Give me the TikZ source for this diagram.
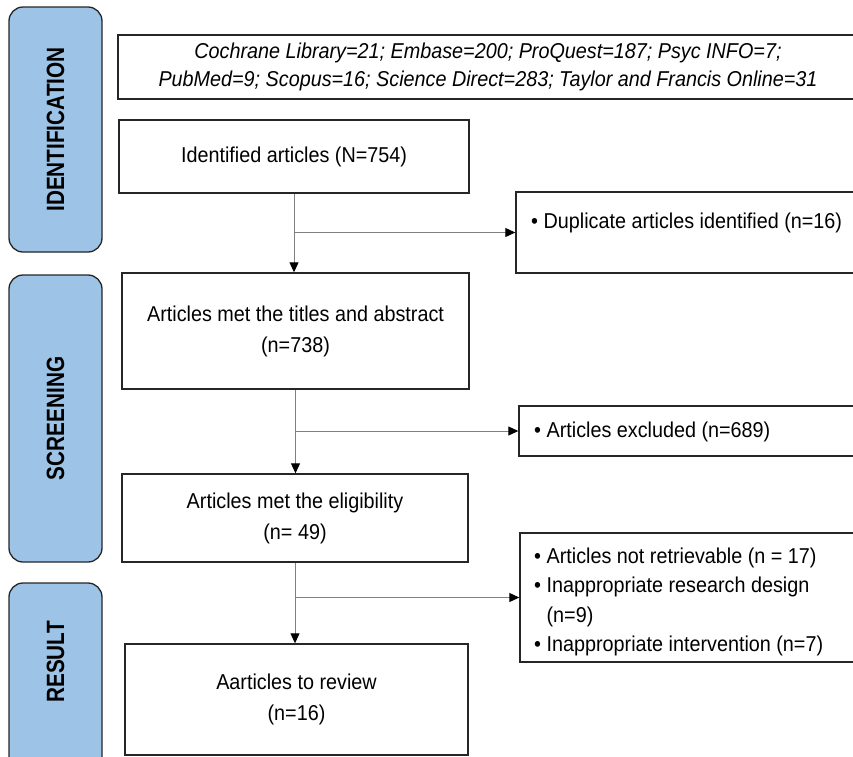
\documentclass[tikz,border=0pt]{standalone}
\usepackage{fontspec}
\setmainfont[FakeStretch=0.92]{Liberation Sans}
\newfontfamily\barfont[FakeStretch=0.83]{Liberation Sans}
\usetikzlibrary{arrows.meta}
\definecolor{barblue}{HTML}{9DC3E6}
\begin{document}
\begin{tikzpicture}[x=1pt,y=-1pt,
  bar/.style={draw=black!85, line width=1.3pt, fill=barblue, rounded corners=14pt, rotate=90,
    font=\barfont\bfseries\fontsize{25}{30}\selectfont, inner sep=0pt},
  box/.style={draw=black!85, line width=1.4pt, inner sep=0pt, align=center,
    font=\fontsize{21.5}{31}\selectfont},
  boxtext/.style={inner sep=0pt, align=left, font=\fontsize{21.5}{29.5}\selectfont},
  conn/.style={draw=black!50, line width=1pt},
  arr/.style={conn, -{Triangle[length=10pt,width=9pt,color=black]}}]
\clip (0,0) rectangle (853,756);
\fill[white] (0,0) rectangle (853,756);

% phase bars
\node[bar, minimum width=245, minimum height=93] (bid) at (55.5,129.5) {IDENTIFICATION};
\node[bar, minimum width=287, minimum height=93] (bscr) at (55.5,418.5) {SCREENING};
\node[bar, minimum width=200, minimum height=93] (bres) at (55.5,683) {};
\node[font=\barfont\bfseries\fontsize{25}{30}\selectfont, rotate=90, inner sep=0pt] (bresl) at (55.5,662) {RESULT};

% main boxes
\node[box, minimum width=740, minimum height=64, font=\itshape\fontsize{21.5}{28.5}\selectfont] (src) at (488,67)
  {Cochrane Library=21; Embase=200; ProQuest=187; Psyc INFO=7;\\
   PubMed=9; Scopus=16; Science Direct=283; Taylor and Francis Online=31};
\node[box, minimum width=350, minimum height=73] (ida) at (294,156.5) {Identified articles (N=754)};
\node[box, minimum width=347, minimum height=116] (scr) at (295.5,331) {Articles met the titles and abstract\\(n=738)};
\node[box, minimum width=346, minimum height=88] (elig) at (295,518) {Articles met the eligibility\\(n= 49)};
\node[box, minimum width=343, minimum height=111] (rev) at (296.5,699.5) {Aarticles to review\\(n=16)};

% side boxes
\node[box, minimum width=364, minimum height=81] (dup) at (698,232.5) {};
\node[boxtext, anchor=west] (dupt) at (531,223) {\textbullet\ Duplicate articles identified (n=16)};
\node[box, minimum width=361, minimum height=50] (exc) at (699.5,431) {};
\node[boxtext, anchor=west] (exct) at (534,432) {\textbullet\ Articles excluded (n=689)};
\node[box, minimum width=360, minimum height=129] (notr) at (700,597.5) {};
\node[boxtext, anchor=west] (notrt) at (534,602)
  {\textbullet\ Articles not retrievable (n = 17)\\
   \textbullet\ Inappropriate research design\\
   \phantom{\textbullet\ }(n=9)\\
   \textbullet\ Inappropriate intervention (n=7)};

% connectors
\draw[arr] (ida.south) -- (ida.south |- scr.north);
\draw[arr] (ida.south |- dup.west) -- (dup.west);
\draw[arr] (scr.south) -- (scr.south |- elig.north);
\draw[arr] (scr.south |- exc.west) -- (exc.west);
\draw[arr] (elig.south) -- (elig.south |- rev.north);
\draw[arr] (elig.south |- notr.west) -- (notr.west);
\end{tikzpicture}
\end{document}
